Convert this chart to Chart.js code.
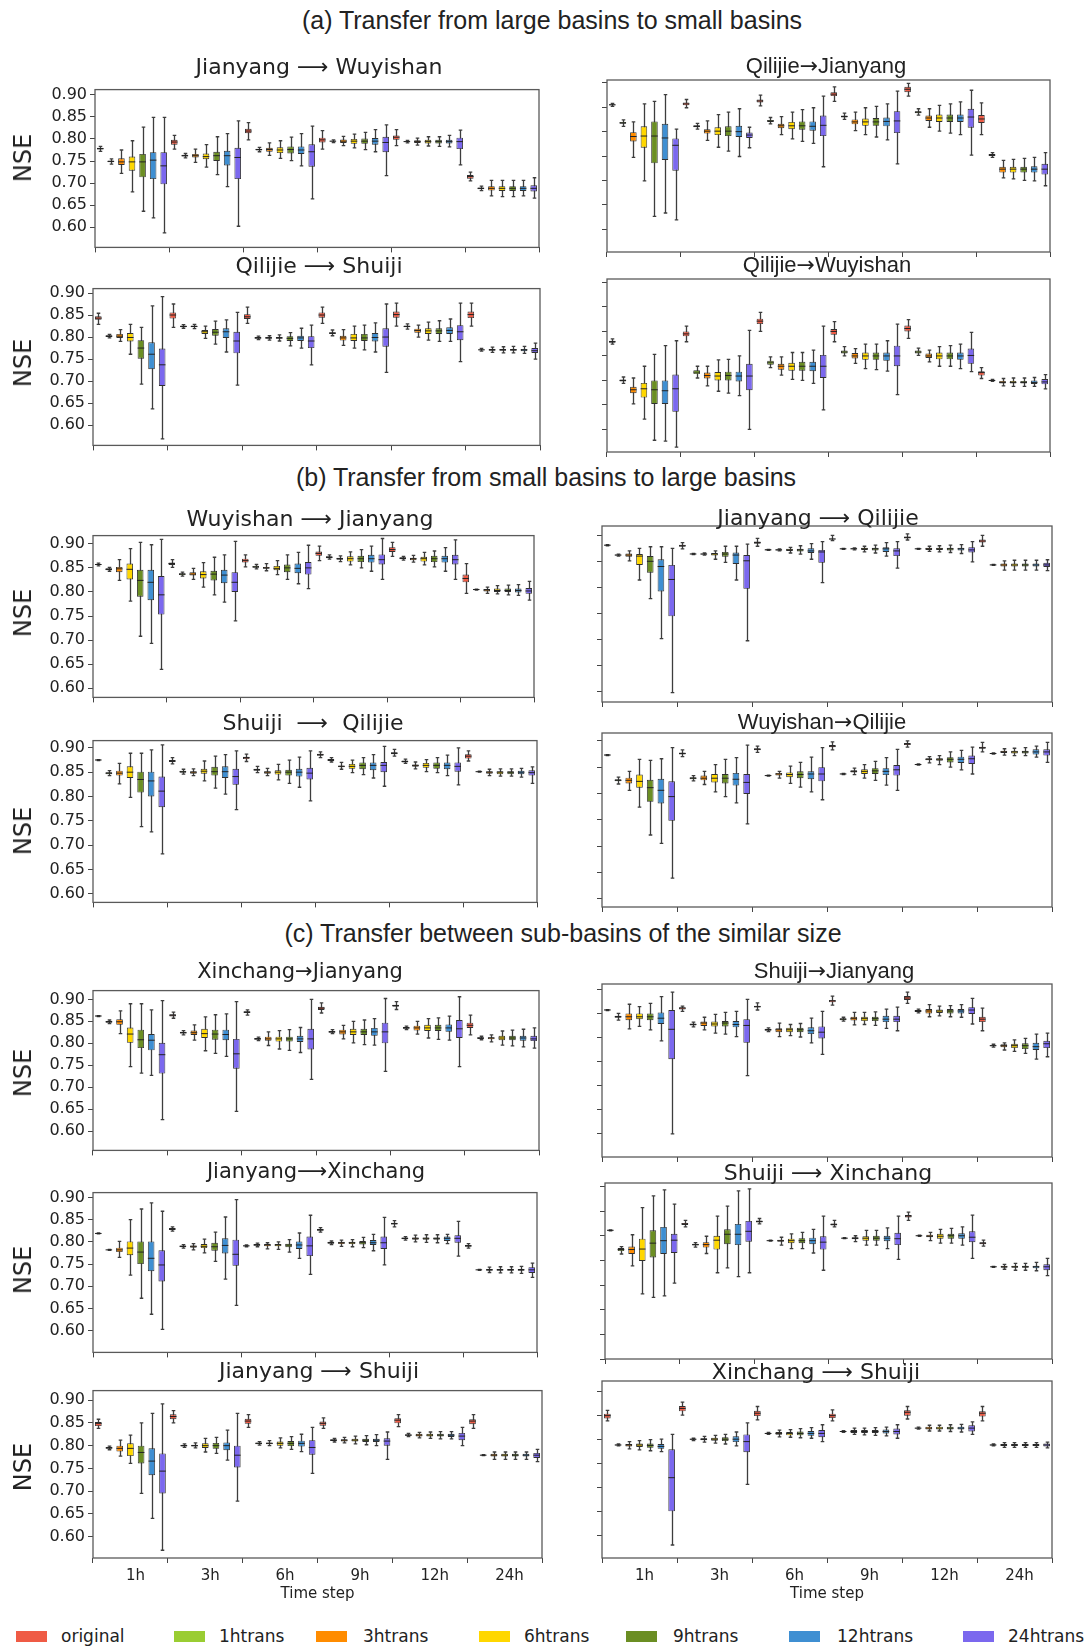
<!DOCTYPE html>
<html>
<head>
<meta charset="utf-8">
<script src="https://cdn.jsdelivr.net/npm/chart.js@4.4.1/dist/chart.umd.min.js"></script>
<style>
  body { margin: 0; background: #fff; }
  #page { position: relative; width: 1092px; height: 1649px; overflow: hidden; background: #fff; }
  canvas { position: absolute; }
  .sec { position: absolute; font-family: "Liberation Sans", Arial, sans-serif; font-size: 25px; color: #222; transform: translate(-50%, -50%); white-space: nowrap; }
  .ptitle { position: absolute; font-family: "DejaVu Sans", sans-serif; font-size: 22px; color: #222; transform: translate(-50%, -50%); white-space: pre; }
  .ptitle.small { font-size: 21px; }
  .ptitle.sans { font-family: "Liberation Sans", Arial, sans-serif; font-size: 22px; }
  .ptitle .arrow { font-family: "DejaVu Sans", sans-serif; }
  .ylab { position: absolute; font-family: "DejaVu Sans", sans-serif; font-size: 24px; color: #222; transform: translate(-50%, -50%) rotate(-90deg); white-space: nowrap; }
  .lg-patch { position: absolute; width: 31px; height: 11px; }
  .lg-text { position: absolute; font-family: "DejaVu Sans", sans-serif; font-size: 17px; color: #222; transform: translateY(-50%); white-space: nowrap; }
</style>
</head>
<body>
<div id="page"></div>
<script>
// Time steps on the x axis and the seven model variants drawn in each step
const timeSteps = ['1h', '3h', '6h', '9h', '12h', '24h'];
const seriesNames = ['original', '1htrans', '3htrans', '6htrans', '9htrans', '12htrans', '24htrans'];
const seriesColors = ['#ef5b45', '#9acd32', '#ff8c00', '#ffd700', '#6b8e23', '#3f8fd2', '#7b68ee'];

// NSE distributions: [time step][variant] = [whisker low, Q1, median, Q3, whisker high]
const jianyangWuyishan = [
  [[.772,.776,.778,.780,.783],[.743,.747,.749,.751,.755],[.722,.741,.748,.756,.775],[.680,.728,.748,.760,.796],[.636,.713,.748,.766,.827],[.621,.709,.752,.770,.849],[.587,.697,.739,.770,.849]],
  [[.777,.787,.793,.798,.808],[.757,.760,.762,.764,.767],[.747,.758,.762,.766,.777],[.736,.754,.760,.767,.787],[.719,.750,.762,.771,.805],[.692,.740,.762,.773,.812],[.602,.709,.758,.780,.841]],
  [[.798,.813,.818,.823,.837],[.771,.774,.776,.778,.781],[.763,.771,.776,.780,.791],[.756,.768,.775,.781,.796],[.751,.767,.776,.783,.804],[.739,.766,.775,.783,.812],[.664,.737,.771,.788,.829]],
  [[.777,.792,.798,.803,.819],[.792,.794,.795,.796,.798],[.785,.791,.795,.799,.806],[.780,.789,.795,.800,.811],[.776,.789,.795,.801,.815],[.771,.787,.795,.802,.821],[.717,.770,.792,.805,.832]],
  [[.785,.798,.804,.808,.821],[.791,.793,.794,.795,.797],[.786,.791,.794,.797,.802],[.784,.790,.794,.798,.805],[.783,.790,.794,.798,.805],[.782,.790,.794,.798,.808],[.741,.777,.794,.803,.820]],
  [[.705,.710,.715,.718,.725],[.683,.686,.688,.690,.693],[.671,.683,.688,.693,.706],[.669,.682,.688,.693,.706],[.669,.682,.688,.693,.706],[.671,.682,.688,.693,.706],[.666,.681,.688,.695,.712]]
];
const qilijieJianyang = [
  [[.852,.854,.855,.856,.858],[.811,.816,.818,.820,.824],[.747,.780,.790,.799,.820],[.699,.767,.791,.811,.857],[.626,.735,.791,.821,.862],[.633,.742,.787,.816,.876],[.619,.720,.772,.786,.805]],
  [[.849,.854,.857,.860,.866],[.805,.809,.811,.813,.817],[.782,.796,.801,.805,.822],[.768,.793,.801,.809,.835],[.760,.791,.801,.811,.840],[.749,.789,.800,.812,.847],[.767,.787,.793,.798,.809]],
  [[.853,.860,.863,.866,.875],[.816,.820,.822,.824,.829],[.794,.807,.812,.816,.831],[.785,.805,.812,.820,.840],[.780,.804,.812,.821,.845],[.776,.802,.811,.821,.849],[.728,.791,.813,.833,.873]],
  [[.862,.873,.877,.881,.892],[.825,.829,.831,.833,.838],[.802,.815,.820,.825,.840],[.794,.812,.820,.827,.849],[.789,.812,.820,.828,.852],[.783,.811,.821,.829,.857],[.734,.797,.822,.842,.883]],
  [[.873,.881,.887,.892,.899],[.834,.838,.840,.842,.847],[.809,.822,.828,.833,.847],[.801,.820,.828,.835,.854],[.797,.820,.828,.835,.857],[.794,.820,.828,.835,.861],[.752,.808,.830,.847,.885]],
  [[.794,.818,.826,.834,.859],[.747,.750,.752,.754,.757],[.705,.716,.723,.728,.741],[.703,.716,.723,.728,.743],[.700,.716,.723,.728,.745],[.699,.716,.723,.729,.747],[.689,.712,.723,.734,.757]]
];
const qilijieShuiji = [
  [[.829,.839,.843,.847,.854],[.798,.800,.802,.804,.806],[.790,.798,.802,.807,.817],[.761,.790,.799,.809,.829],[.693,.751,.775,.793,.822],[.637,.727,.761,.788,.871],[.569,.689,.737,.774,.892]],
  [[.822,.842,.850,.856,.875],[.820,.822,.824,.826,.828],[.819,.822,.824,.826,.829],[.797,.807,.812,.816,.825],[.784,.803,.811,.818,.836],[.766,.798,.812,.820,.839],[.691,.763,.791,.812,.856]],
  [[.831,.841,.846,.852,.868],[.794,.796,.798,.800,.802],[.793,.796,.798,.800,.803],[.791,.796,.798,.800,.805],[.780,.791,.797,.802,.810],[.775,.791,.798,.803,.820],[.737,.775,.791,.802,.827]],
  [[.831,.844,.850,.856,.868],[.803,.807,.809,.811,.816],[.781,.792,.798,.803,.817],[.775,.791,.798,.807,.825],[.771,.791,.798,.807,.827],[.766,.790,.799,.809,.832],[.720,.778,.800,.820,.875]],
  [[.825,.844,.851,.858,.877],[.818,.822,.824,.826,.830],[.800,.810,.815,.819,.827],[.793,.807,.814,.820,.834],[.790,.807,.814,.820,.837],[.790,.807,.815,.822,.841],[.744,.793,.812,.827,.877]],
  [[.825,.843,.851,.858,.877],[.768,.770,.771,.772,.774],[.765,.769,.771,.773,.777],[.764,.769,.771,.773,.778],[.764,.769,.771,.773,.779],[.763,.768,.771,.773,.779],[.750,.764,.769,.775,.786]]
];
const qilijieWuyishan = [
  [[.774,.777,.779,.781,.785],[.694,.698,.700,.702,.707],[.652,.674,.681,.687,.705],[.621,.665,.683,.695,.729],[.578,.652,.681,.700,.753],[.576,.652,.679,.700,.771],[.564,.636,.683,.712,.781]],
  [[.779,.790,.795,.800,.811],[.705,.713,.717,.721,.729],[.689,.704,.710,.716,.729],[.678,.700,.709,.717,.742],[.674,.700,.710,.718,.743],[.669,.698,.709,.718,.750],[.600,.680,.709,.734,.802]],
  [[.800,.815,.821,.826,.839],[.726,.732,.736,.740,.748],[.711,.722,.729,.734,.748],[.702,.720,.729,.736,.757],[.700,.720,.729,.738,.757],[.694,.719,.729,.738,.762],[.640,.705,.729,.752,.811]],
  [[.779,.793,.800,.805,.820],[.750,.755,.758,.761,.769],[.735,.745,.750,.756,.765],[.724,.742,.750,.757,.774],[.722,.742,.750,.757,.774],[.719,.740,.750,.757,.781],[.671,.729,.750,.771,.815]],
  [[.786,.800,.806,.812,.824],[.751,.755,.758,.761,.766],[.738,.746,.750,.755,.762],[.729,.743,.750,.757,.769],[.729,.743,.750,.757,.771],[.724,.742,.750,.757,.774],[.718,.734,.751,.765,.798]],
  [[.704,.710,.716,.719,.726],[.698,.699,.700,.701,.702],[.689,.694,.696,.699,.704],[.688,.694,.696,.699,.705],[.688,.694,.696,.699,.705],[.688,.693,.696,.700,.706],[.683,.692,.697,.703,.712]]
];
const wuyishanJianyang = [
  [[.854,.856,.857,.858,.860],[.843,.845,.847,.849,.851],[.824,.841,.848,.852,.867],[.781,.826,.847,.859,.890],[.708,.790,.824,.846,.903],[.693,.783,.820,.846,.898],[.639,.753,.794,.833,.909]],
  [[.851,.856,.859,.861,.867],[.833,.835,.837,.839,.841],[.826,.834,.837,.841,.849],[.810,.828,.836,.843,.861],[.794,.824,.837,.844,.872],[.779,.818,.835,.846,.877],[.740,.800,.820,.841,.905]],
  [[.852,.861,.865,.869,.877],[.848,.850,.852,.854,.857],[.844,.848,.850,.852,.859],[.836,.845,.849,.854,.865],[.826,.841,.850,.857,.877],[.817,.839,.849,.859,.882],[.807,.836,.850,.862,.897]],
  [[.865,.875,.880,.884,.895],[.868,.870,.872,.874,.877],[.863,.867,.869,.871,.875],[.856,.863,.869,.874,.883],[.850,.862,.869,.875,.888],[.843,.861,.869,.877,.895],[.826,.857,.867,.878,.911]],
  [[.874,.883,.888,.893,.903],[.866,.868,.870,.872,.874],[.862,.866,.869,.871,.876],[.856,.863,.869,.873,.882],[.852,.862,.869,.875,.885],[.843,.861,.869,.875,.892],[.826,.857,.867,.877,.908]],
  [[.797,.820,.828,.836,.859],[.804,.805,.805,.806,.806],[.797,.801,.804,.806,.810],[.796,.800,.803,.807,.813],[.794,.800,.803,.807,.814],[.793,.799,.803,.807,.815],[.783,.796,.802,.808,.822]]
];
const jianyangQilijie = [
  [[.881,.882,.882,.883,.883],[.861,.862,.863,.864,.865],[.852,.860,.863,.866,.871],[.815,.844,.861,.865,.876],[.779,.829,.851,.861,.879],[.702,.793,.841,.855,.879],[.598,.745,.816,.844,.876]],
  [[.875,.879,.881,.883,.887],[.864,.865,.865,.866,.866],[.863,.864,.865,.866,.867],[.855,.862,.865,.867,.871],[.849,.860,.865,.869,.880],[.815,.846,.863,.868,.880],[.698,.798,.852,.863,.884]],
  [[.880,.885,.887,.889,.895],[.872,.873,.873,.874,.874],[.871,.872,.873,.874,.875],[.867,.871,.873,.875,.878],[.865,.870,.873,.875,.881],[.855,.867,.871,.876,.885],[.810,.848,.869,.873,.889]],
  [[.891,.893,.894,.895,.901],[.874,.875,.875,.876,.876],[.873,.874,.875,.876,.877],[.869,.873,.875,.877,.880],[.867,.872,.875,.877,.882],[.861,.869,.875,.878,.887],[.838,.861,.871,.876,.889]],
  [[.892,.895,.897,.899,.904],[.874,.875,.875,.876,.876],[.870,.873,.875,.877,.880],[.869,.873,.875,.877,.881],[.868,.872,.875,.877,.882],[.866,.872,.875,.877,.883],[.850,.868,.873,.878,.889]],
  [[.880,.887,.890,.893,.901],[.843,.844,.844,.845,.845],[.834,.841,.844,.847,.852],[.834,.841,.844,.847,.853],[.834,.841,.844,.847,.853],[.834,.841,.844,.847,.853],[.833,.840,.844,.848,.854]]
];
const shuijiQilijie = [
  [[.874,.875,.875,.876,.876],[.843,.846,.848,.850,.853],[.826,.843,.848,.853,.868],[.798,.838,.850,.862,.889],[.738,.808,.835,.851,.889],[.727,.800,.832,.851,.896],[.682,.778,.811,.841,.906]],
  [[.867,.871,.873,.875,.880],[.846,.849,.851,.853,.856],[.843,.847,.850,.852,.857],[.832,.847,.852,.857,.873],[.817,.843,.851,.861,.883],[.805,.838,.851,.862,.886],[.773,.824,.841,.857,.894]],
  [[.872,.877,.880,.882,.887],[.849,.853,.855,.857,.862],[.843,.847,.850,.852,.858],[.834,.845,.850,.854,.866],[.827,.843,.850,.855,.875],[.819,.841,.850,.857,.881],[.791,.835,.848,.859,.894]],
  [[.880,.884,.886,.888,.892],[.871,.873,.875,.877,.880],[.856,.860,.862,.864,.870],[.849,.857,.862,.867,.875],[.845,.856,.864,.870,.880],[.838,.854,.864,.870,.886],[.821,.850,.864,.871,.903]],
  [[.883,.887,.889,.891,.897],[.868,.870,.872,.874,.877],[.857,.861,.864,.866,.871],[.851,.859,.864,.869,.876],[.849,.857,.864,.870,.880],[.843,.856,.864,.870,.885],[.824,.851,.862,.870,.900]],
  [[.873,.878,.883,.887,.894],[.850,.851,.851,.852,.852],[.843,.847,.850,.852,.856],[.842,.846,.850,.852,.857],[.842,.846,.850,.852,.857],[.840,.846,.850,.853,.858],[.827,.843,.849,.854,.861]]
];
const wuyishanQilijie = [
  [[.872,.873,.873,.874,.874],[.818,.823,.825,.827,.831],[.806,.819,.825,.830,.842],[.774,.811,.823,.836,.865],[.721,.784,.811,.826,.863],[.705,.781,.806,.828,.866],[.639,.748,.794,.823,.887]],
  [[.870,.874,.876,.878,.883],[.824,.827,.829,.831,.834],[.817,.825,.829,.834,.842],[.803,.821,.829,.837,.855],[.794,.819,.829,.837,.865],[.782,.815,.827,.839,.868],[.742,.799,.821,.837,.892]],
  [[.878,.882,.884,.886,.890],[.833,.834,.834,.835,.835],[.829,.834,.837,.839,.842],[.819,.831,.836,.840,.852],[.812,.829,.836,.842,.859],[.803,.827,.837,.842,.869],[.788,.823,.837,.850,.887]],
  [[.883,.888,.890,.892,.898],[.836,.837,.837,.838,.838],[.836,.840,.842,.844,.848],[.829,.837,.842,.846,.855],[.825,.837,.843,.848,.861],[.816,.835,.842,.848,.868],[.806,.834,.845,.854,.884]],
  [[.888,.892,.894,.896,.900],[.854,.855,.855,.856,.856],[.858,.863,.865,.867,.870],[.855,.862,.865,.867,.872],[.850,.859,.865,.869,.879],[.845,.858,.865,.870,.882],[.837,.856,.866,.872,.888]],
  [[.879,.885,.887,.889,.897],[.875,.876,.876,.877,.877],[.873,.877,.879,.881,.885],[.872,.876,.879,.881,.886],[.872,.876,.879,.881,.887],[.869,.874,.879,.884,.890],[.859,.872,.879,.884,.897]]
];
const xinchangJianyang = [
  [[.861,.862,.862,.863,.863],[.845,.847,.849,.851,.853],[.822,.842,.849,.855,.874],[.747,.801,.821,.836,.890],[.732,.789,.808,.831,.890],[.727,.784,.807,.821,.876],[.626,.731,.774,.801,.897]],
  [[.857,.861,.864,.866,.871],[.819,.822,.824,.826,.829],[.807,.819,.824,.829,.842],[.783,.812,.822,.833,.860],[.777,.808,.821,.831,.865],[.770,.807,.820,.831,.867],[.645,.742,.776,.810,.895]],
  [[.864,.869,.871,.873,.876],[.806,.808,.810,.812,.814],[.795,.806,.810,.815,.826],[.787,.804,.810,.815,.829],[.784,.804,.810,.815,.831],[.779,.803,.810,.817,.836],[.718,.786,.810,.833,.900]],
  [[.869,.876,.880,.883,.892],[.822,.824,.826,.828,.831],[.810,.820,.826,.831,.841],[.801,.819,.826,.833,.850],[.797,.819,.826,.833,.853],[.796,.817,.826,.835,.856],[.736,.800,.826,.847,.902]],
  [[.877,.883,.886,.888,.895],[.831,.833,.835,.837,.839],[.821,.829,.835,.840,.850],[.812,.828,.835,.842,.856],[.809,.828,.835,.842,.858],[.807,.826,.835,.843,.862],[.747,.812,.833,.853,.906]],
  [[.819,.835,.841,.847,.864],[.808,.810,.812,.814,.816],[.803,.809,.812,.814,.819],[.796,.807,.812,.817,.828],[.794,.807,.812,.817,.830],[.792,.806,.812,.817,.832],[.789,.805,.810,.817,.835]]
];
const shuijiJianyang = [
  [[.856,.857,.857,.858,.858],[.836,.841,.843,.845,.850],[.818,.836,.843,.850,.869],[.823,.838,.843,.850,.864],[.816,.836,.843,.850,.871],[.793,.828,.840,.852,.885],[.600,.755,.817,.857,.894]],
  [[.854,.858,.861,.863,.865],[.822,.825,.827,.829,.832],[.816,.824,.830,.833,.842],[.809,.823,.828,.833,.848],[.807,.823,.830,.834,.852],[.802,.821,.827,.834,.854],[.721,.789,.825,.838,.879]],
  [[.857,.862,.864,.866,.872],[.812,.814,.816,.818,.820],[.802,.811,.816,.819,.830],[.804,.811,.816,.820,.827],[.801,.811,.816,.820,.829],[.789,.807,.814,.821,.840],[.765,.798,.811,.823,.854]],
  [[.867,.873,.876,.878,.886],[.834,.836,.838,.840,.842],[.826,.835,.839,.843,.852],[.827,.834,.839,.843,.852],[.825,.834,.839,.843,.853],[.819,.832,.838,.845,.859],[.814,.832,.838,.845,.863]],
  [[.871,.878,.882,.886,.894],[.851,.853,.855,.857,.859],[.843,.850,.855,.859,.868],[.845,.851,.855,.858,.865],[.843,.850,.855,.859,.866],[.842,.850,.855,.859,.868],[.828,.849,.857,.863,.881]],
  [[.814,.832,.838,.843,.861],[.780,.782,.783,.784,.786],[.774,.780,.783,.786,.789],[.771,.778,.783,.787,.795],[.767,.776,.783,.788,.798],[.755,.774,.781,.789,.807],[.760,.778,.787,.793,.809]]
];
const jianyangXinchang = [
  [[.818,.819,.819,.820,.820],[.781,.782,.782,.783,.783],[.765,.777,.782,.787,.801],[.725,.770,.786,.801,.850],[.673,.750,.777,.801,.874],[.637,.734,.763,.801,.888],[.603,.711,.748,.781,.869]],
  [[.824,.827,.829,.831,.834],[.786,.788,.790,.792,.794],[.782,.787,.790,.792,.796],[.775,.786,.790,.795,.806],[.756,.780,.789,.798,.822],[.716,.774,.792,.808,.856],[.657,.746,.772,.805,.895]],
  [[.789,.790,.791,.792,.793],[.789,.791,.793,.795,.797],[.784,.790,.793,.795,.798],[.783,.790,.793,.795,.800],[.777,.788,.793,.796,.805],[.763,.784,.793,.801,.820],[.727,.768,.791,.812,.860]],
  [[.822,.825,.827,.829,.832],[.794,.796,.798,.800,.802],[.790,.795,.798,.800,.804],[.789,.795,.798,.800,.805],[.787,.794,.798,.802,.810],[.780,.793,.798,.804,.817],[.748,.784,.798,.812,.855]],
  [[.834,.839,.841,.843,.848],[.804,.806,.808,.810,.812],[.800,.805,.808,.810,.815],[.799,.805,.808,.810,.816],[.798,.805,.808,.810,.816],[.796,.802,.808,.812,.817],[.768,.798,.808,.815,.846]],
  [[.786,.789,.791,.793,.796],[.736,.737,.737,.738,.738],[.731,.735,.737,.739,.743],[.730,.735,.737,.739,.744],[.730,.735,.737,.739,.744],[.729,.735,.737,.739,.745],[.720,.730,.737,.743,.752]]
];
const shuijiXinchang = [
  [[.810,.811,.811,.812,.812],[.763,.769,.772,.775,.778],[.739,.763,.772,.778,.802],[.682,.749,.773,.794,.857],[.675,.756,.785,.811,.881],[.678,.763,.790,.818,.893],[.704,.765,.791,.804,.864]],
  [[.818,.822,.824,.826,.831],[.777,.780,.782,.784,.786],[.764,.776,.782,.787,.799],[.725,.772,.791,.800,.840],[.735,.783,.803,.813,.860],[.717,.781,.803,.824,.891],[.725,.788,.809,.830,.895]],
  [[.824,.827,.829,.831,.835],[.789,.790,.790,.791,.791],[.781,.788,.790,.792,.797],[.774,.785,.790,.794,.804],[.774,.785,.790,.795,.807],[.765,.783,.790,.796,.813],[.730,.772,.787,.799,.840]],
  [[.818,.821,.823,.825,.831],[.794,.795,.795,.796,.796],[.788,.793,.795,.797,.800],[.781,.790,.795,.799,.811],[.781,.790,.795,.800,.811],[.774,.789,.795,.800,.816],[.752,.781,.794,.806,.840]],
  [[.831,.837,.840,.842,.848],[.799,.800,.800,.801,.801],[.790,.797,.799,.802,.807],[.785,.794,.799,.804,.813],[.785,.794,.800,.804,.815],[.781,.794,.800,.805,.818],[.754,.787,.797,.809,.842]],
  [[.779,.783,.785,.787,.791],[.736,.737,.737,.738,.738],[.732,.735,.737,.739,.742],[.730,.735,.737,.739,.744],[.730,.735,.737,.739,.744],[.729,.734,.737,.739,.746],[.719,.730,.737,.742,.754]]
];
const jianyangShuiji = [
  [[.838,.843,.849,.852,.858],[.791,.793,.795,.797,.799],[.777,.787,.794,.800,.812],[.761,.777,.794,.805,.823],[.695,.761,.785,.800,.850],[.640,.735,.766,.794,.871],[.570,.695,.744,.783,.892]],
  [[.850,.858,.864,.869,.877],[.796,.798,.800,.802,.804],[.795,.798,.800,.802,.806],[.786,.795,.800,.805,.816],[.783,.793,.800,.806,.818],[.768,.790,.800,.807,.834],[.678,.752,.779,.800,.871]],
  [[.840,.848,.854,.859,.868],[.801,.803,.805,.807,.809],[.800,.803,.805,.807,.811],[.795,.800,.805,.809,.817],[.792,.799,.805,.810,.820],[.787,.798,.805,.811,.825],[.739,.780,.796,.812,.840]],
  [[.838,.844,.849,.853,.861],[.808,.810,.812,.814,.816],[.806,.809,.812,.814,.818],[.804,.809,.812,.815,.821],[.802,.808,.812,.815,.822],[.800,.808,.812,.815,.824],[.770,.800,.810,.816,.830]],
  [[.842,.849,.856,.860,.868],[.820,.822,.823,.825,.827],[.817,.820,.823,.826,.829],[.816,.820,.823,.826,.830],[.815,.820,.823,.826,.831],[.815,.819,.823,.826,.831],[.800,.812,.821,.828,.840]],
  [[.838,.847,.854,.858,.868],[.778,.779,.779,.780,.780],[.770,.776,.779,.782,.786],[.770,.776,.779,.782,.786],[.770,.776,.779,.782,.786],[.770,.776,.779,.782,.786],[.765,.773,.779,.784,.792]]
];
const xinchangShuiji = [
  [[.838,.843,.849,.853,.860],[.786,.787,.788,.789,.790],[.780,.785,.788,.790,.795],[.778,.784,.788,.791,.797],[.776,.782,.787,.791,.799],[.774,.780,.785,.790,.800],[.580,.650,.720,.779,.810]],
  [[.850,.858,.864,.869,.877],[.797,.799,.800,.801,.802],[.794,.798,.800,.802,.806],[.792,.797,.800,.803,.808],[.790,.796,.800,.804,.810],[.786,.794,.800,.806,.815],[.706,.773,.795,.810,.834]],
  [[.840,.848,.854,.859,.868],[.810,.811,.812,.813,.814],[.805,.809,.812,.815,.819],[.804,.808,.812,.815,.820],[.803,.808,.812,.816,.822],[.802,.807,.812,.817,.824],[.795,.804,.812,.819,.830]],
  [[.838,.844,.849,.853,.861],[.814,.815,.816,.817,.818],[.810,.813,.816,.819,.823],[.809,.813,.816,.819,.823],[.808,.813,.816,.819,.824],[.807,.812,.816,.820,.825],[.802,.810,.816,.822,.830]],
  [[.842,.849,.856,.860,.868],[.821,.822,.823,.824,.825],[.817,.820,.823,.826,.829],[.817,.820,.823,.826,.829],[.816,.820,.823,.826,.830],[.815,.820,.823,.826,.831],[.810,.816,.823,.829,.836]],
  [[.838,.847,.854,.858,.868],[.786,.787,.788,.789,.790],[.783,.786,.788,.790,.793],[.783,.786,.788,.790,.793],[.783,.786,.788,.790,.793],[.783,.786,.788,.790,.793],[.782,.785,.788,.791,.794]]
];

// Section headings
const sections = [
  { text: '(a) Transfer from large basins to small basins', x: 552, y: 20 },
  { text: '(b) Transfer from small basins to large basins', x: 546, y: 477 },
  { text: '(c) Transfer between sub-basins of the similar size', x: 563, y: 933 }
];

// Panel placement (page pixels) and y ranges
const panels = [
  { data: jianyangWuyishan, title: 'Jianyang ⟶ Wuyishan', sans: false, tx: 319, ty: 66,  l: 95,  t: 80,   r: 539,  b: 252,  min: .554, max: .912, left: true,  bottom: false, nseY: 158 },
  { data: qilijieJianyang,  title: 'Qilijie→Jianyang',      sans: true,  tx: 826, ty: 66,  l: 607, t: 80,   r: 1050, b: 252,  min: .553, max: .906, left: false, bottom: false },
  { data: qilijieShuiji,    title: 'Qilijie ⟶ Shuiji',      sans: false, tx: 319, ty: 265, l: 93,  t: 279,  r: 540,  b: 450,  min: .554, max: .910, left: true,  bottom: false, nseY: 363 },
  { data: qilijieWuyishan,  title: 'Qilijie→Wuyishan',      sans: true,  tx: 827, ty: 265, l: 607, t: 279,  r: 1050, b: 452,  min: .554, max: .907, left: false, bottom: false },
  { data: wuyishanJianyang, title: 'Wuyishan ⟶ Jianyang',   sans: false, tx: 310, ty: 518, l: 93,  t: 526,  r: 534,  b: 702,  min: .581, max: .917, left: true,  bottom: false, nseY: 613 },
  { data: jianyangQilijie,  title: 'Jianyang ⟶ Qilijie',    sans: false, tx: 818, ty: 517, l: 602, t: 526,  r: 1052, b: 702,  min: .580, max: .919, left: false, bottom: false },
  { data: shuijiQilijie,    title: 'Shuiji  ⟶  Qilijie',    sans: false, tx: 313, ty: 722, l: 93,  t: 731,  r: 537,  b: 907,  min: .582, max: .915, left: true,  bottom: false, nseY: 831 },
  { data: wuyishanQilijie,  title: 'Wuyishan→Qilijie',      sans: true,  tx: 822, ty: 722, l: 602, t: 733,  r: 1052, b: 907,  min: .584, max: .915, left: false, bottom: false },
  { data: xinchangJianyang, title: 'Xinchang→Jianyang',     sans: false, small: true, tx: 300, ty: 971, l: 93,  t: 981,  r: 539,  b: 1155, min: .556, max: .920, left: true,  bottom: false, nseY: 1073 },
  { data: shuijiJianyang,   title: 'Shuiji→Jianyang',       sans: true,  tx: 834, ty: 971, l: 602, t: 984,  r: 1052, b: 1157, min: .552, max: .911, left: false, bottom: false },
  { data: jianyangXinchang, title: 'Jianyang⟶Xinchang',     sans: false, small: true, tx: 316, ty: 1171, l: 93, t: 1183, r: 537,  b: 1357, min: .551, max: .911, left: true,  bottom: false, nseY: 1270 },
  { data: shuijiXinchang,   title: 'Shuiji ⟶ Xinchang',     sans: false, tx: 828, ty: 1172, l: 605, t: 1183, r: 1052, b: 1359, min: .550, max: .907, left: false, bottom: false },
  { data: jianyangShuiji,   title: 'Jianyang ⟶ Shuiji',     sans: false, tx: 319, ty: 1370, l: 93, t: 1381, r: 542,  b: 1558, min: .553, max: .921, left: true,  bottom: true,  nseY: 1467 },
  { data: xinchangShuiji,   title: 'Xinchang ⟶ Shuiji',     sans: false, tx: 816, ty: 1371, l: 602, t: 1381, r: 1052, b: 1558, min: .553, max: .921, left: false, bottom: true }
];

// Legend placement
const legendItems = [
  { px: 16, tx: 61 }, { px: 174, tx: 219 }, { px: 316, tx: 363 }, { px: 479, tx: 524 },
  { px: 626, tx: 673 }, { px: 789, tx: 837 }, { px: 963, tx: 1008 }
];
const legendY = 1636;

const page = document.getElementById('page');

function addText(cls, text, x, y) {
  const el = document.createElement('div');
  el.className = cls;
  el.textContent = text;
  el.style.left = x + 'px';
  el.style.top = y + 'px';
  page.appendChild(el);
  return el;
}

// Title whose short arrow is set in a font that carries the glyph at full size
function addArrowTitle(text, x, y) {
  const el = addText('ptitle sans', '', x, y);
  const parts = text.split('→');
  parts.forEach((part, i) => {
    if (i > 0) {
      const a = document.createElement('span');
      a.className = 'arrow';
      a.textContent = '→';
      el.appendChild(a);
    }
    el.appendChild(document.createTextNode(part));
  });
  return el;
}

sections.forEach(s => addText('sec', s.text, s.x, s.y));

// Whiskers, caps, medians and the plot frame
function boxWhiskerPlugin(boxes) {
  return {
    id: 'boxWhisker',
    beforeDatasetsDraw(chart) {
      const ctx = chart.ctx, ys = chart.scales.y;
      ctx.save();
      ctx.strokeStyle = '#3d3d3d';
      ctx.lineWidth = 1.3;
      chart.data.datasets.forEach((ds, s) => {
        chart.getDatasetMeta(s).data.forEach((bar, g) => {
          const v = boxes[g][s];
          const x = Math.round(bar.x) + 0.5;
          const half = bar.width * 0.27;
          const yLo = ys.getPixelForValue(v[0]);
          const yHi = ys.getPixelForValue(v[4]);
          ctx.beginPath();
          ctx.moveTo(x, yLo); ctx.lineTo(x, yHi);
          ctx.moveTo(x - half, yLo); ctx.lineTo(x + half, yLo);
          ctx.moveTo(x - half, yHi); ctx.lineTo(x + half, yHi);
          ctx.stroke();
        });
      });
      ctx.restore();
    },
    afterDatasetsDraw(chart) {
      const ctx = chart.ctx, ys = chart.scales.y;
      ctx.save();
      ctx.strokeStyle = '#222';
      ctx.lineWidth = 1;
      chart.data.datasets.forEach((ds, s) => {
        chart.getDatasetMeta(s).data.forEach((bar, g) => {
          const y = ys.getPixelForValue(boxes[g][s][2]);
          ctx.beginPath();
          ctx.moveTo(bar.x - bar.width / 2, y);
          ctx.lineTo(bar.x + bar.width / 2, y);
          ctx.stroke();
        });
      });
      const a = chart.chartArea;
      ctx.strokeStyle = '#5a5a5a';
      ctx.lineWidth = 1.3;
      ctx.strokeRect(a.left, a.top, a.right - a.left, a.bottom - a.top);
      ctx.restore();
    }
  };
}

panels.forEach(p => {
  const yW = p.left ? p.l : 14;
  const padTop = 3, padRight = 4;
  const xH = p.bottom ? 46 : 8;
  const w = yW + (p.r - p.l) + padRight;
  const h = padTop + (p.b - p.t) + xH;
  const canvas = document.createElement('canvas');
  canvas.width = w; canvas.height = h;
  canvas.style.left = (p.l - yW) + 'px';
  canvas.style.top = (p.t - padTop) + 'px';
  canvas.style.width = w + 'px';
  canvas.style.height = h + 'px';
  page.appendChild(canvas);

  if (p.sans) addArrowTitle(p.title, p.tx, p.ty);
  else addText('ptitle' + (p.small ? ' small' : ''), p.title, p.tx, p.ty);
  if (p.left) addText('ylab', 'NSE', 23, p.nseY);

  new Chart(canvas, {
    type: 'bar',
    data: {
      labels: timeSteps,
      datasets: seriesNames.map((name, s) => ({
        label: name,
        data: p.data.map(g => [g[s][1], g[s][3]]),
        backgroundColor: seriesColors[s],
        borderColor: '#303030',
        borderWidth: 0.9,
        borderSkipped: false,
        categoryPercentage: 1,
        barPercentage: 0.62
      }))
    },
    options: {
      responsive: false,
      animation: false,
      devicePixelRatio: 1,
      layout: { padding: { top: padTop, right: padRight, left: 0, bottom: 0 } },
      plugins: { legend: { display: false }, tooltip: { enabled: false } },
      scales: {
        x: {
          type: 'category',
          offset: true,
          border: { display: false },
          grid: { offset: true, drawOnChartArea: false, drawTicks: true, tickLength: 5, color: '#444' },
          ticks: { display: p.bottom, color: '#222', font: { family: 'DejaVu Sans', size: 15 }, padding: 4, labelOffset: 5, maxRotation: 0 },
          title: { display: p.bottom, text: 'Time step', color: '#222', font: { family: 'DejaVu Sans', size: 15 }, padding: { top: 0, bottom: 1 } },
          afterFit(scale) { scale.height = xH; }
        },
        y: {
          min: p.min,
          max: p.max,
          border: { display: false },
          grid: { drawOnChartArea: false, drawTicks: true, tickLength: 5, color: '#444' },
          ticks: {
            display: p.left,
            stepSize: 0.05,
            includeBounds: false,
            color: '#222',
            font: { family: 'DejaVu Sans', size: 16 },
            padding: 3,
            callback: v => v.toFixed(2)
          },
          afterFit(scale) { scale.width = yW; }
        }
      }
    },
    plugins: [boxWhiskerPlugin(p.data)]
  });
});

// Legend row
seriesNames.forEach((name, s) => {
  const patch = document.createElement('div');
  patch.className = 'lg-patch';
  patch.style.left = legendItems[s].px + 'px';
  patch.style.top = (legendY - 5) + 'px';
  patch.style.background = seriesColors[s];
  page.appendChild(patch);
  addText('lg-text', name, legendItems[s].tx, legendY);
});
</script>
</body>
</html>
